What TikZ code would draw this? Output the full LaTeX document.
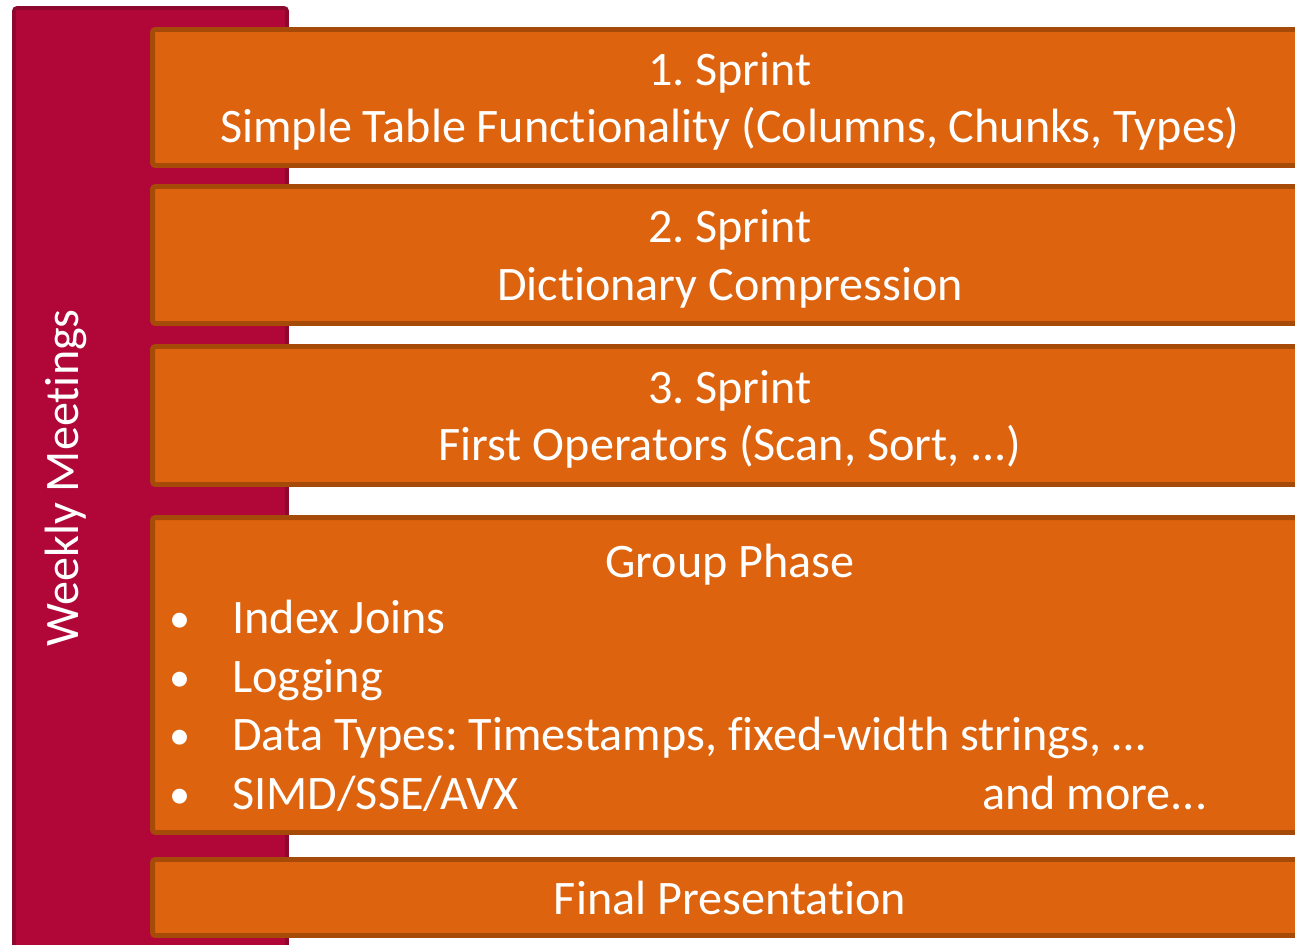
\documentclass[tikz,border=0pt]{standalone}
\usepackage{fontspec}
\setmainfont{Carlito}[Ligatures = NoCommon]
\definecolor{meetred}{RGB}{176,7,56}
\definecolor{meetredline}{RGB}{140,8,46}
\definecolor{sprintorange}{RGB}{221,99,14}
\definecolor{sprintline}{RGB}{165,74,8}
\frenchspacing

\begin{document}
\begin{tikzpicture}[x = 0.02cm, y = -0.02cm]
\tikzstyle{meetStyle}=[draw = meetredline, fill = meetred, line width = 2pt, rounded corners = 1.5pt]
\tikzstyle{sprintStyle}=[draw = sprintline, fill = sprintorange, line width = 2.8pt, rounded corners = 1.5pt, minimum width = 23.1cm, inner sep = 0pt, text = white, align = center]
\tikzstyle{textStyle}=[text = white, inner sep = 0pt, font = \fontsize{27.4pt}{32.9pt}\selectfont]
\tikzstyle{bulletStyle}=[text = white, inner sep = 0pt, font = \fontsize{24pt}{28pt}\selectfont]
\useasboundingbox (0,0) rectangle (1295,944);
\clip (0,0) rectangle (1295,944);
% weekly meetings column
\draw[meetStyle] (14,8) rectangle (287,960);
\node[textStyle, rotate = 90] (meetings) at (66,478) {Weekly Meetings};
% sprints
\node[sprintStyle, textStyle, minimum height = 2.72cm, text depth = 0pt] (sprint1) at (730,97.5) {1. Sprint\\Simple Table Functionality (Columns, Chunks, Types)};
\node[sprintStyle, textStyle, minimum height = 2.74cm, text depth = 0pt] (sprint2) at (730,255) {2. Sprint\\Dictionary Compression};
\node[sprintStyle, textStyle, minimum height = 2.76cm, text depth = 0pt] (sprint3) at (730,415.5) {3. Sprint\\First Operators (Scan, Sort, ...)};
% group phase
\node[sprintStyle, minimum height = 6.3cm] (group) at (730,675) {};
\node[textStyle, anchor = base] (grouptitle) at (730,577) {Group Phase};
\node[bulletStyle, anchor = base] (b1) at (180,632) {•};
\node[textStyle, anchor = base west] (joins) at (232,633) {Index Joins};
\node[bulletStyle, anchor = base] (b2) at (180,691) {•};
\node[textStyle, anchor = base west] (logging) at (232,692) {Logging};
\node[bulletStyle, anchor = base] (b3) at (180,749) {•};
\node[textStyle, anchor = base west] (types) at (232,750) {Data Types: Timestamps, fixed-width strings, …};
\node[bulletStyle, anchor = base] (b4) at (180,808) {•};
\node[textStyle, anchor = base west] (simd) at (232,809) {SIMD/SSE/AVX};
\node[textStyle, anchor = base west] (more) at (982,809) {and more...};
% final
\node[sprintStyle, minimum height = 1.52cm] (final) at (730,897.5) {};
\node[textStyle, anchor = base] (finaltext) at (730,914) {Final Presentation};
\end{tikzpicture}
\end{document}
